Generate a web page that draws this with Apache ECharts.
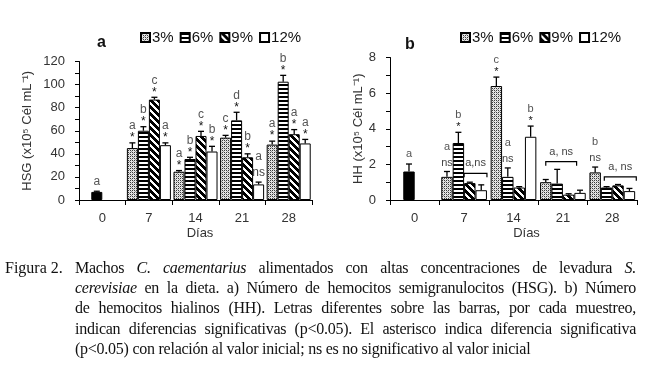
<!DOCTYPE html>
<html><head><meta charset="utf-8">
<script src="https://cdn.jsdelivr.net/npm/echarts@6/dist/echarts.min.js"></script>
<style>
html,body{margin:0;padding:0;background:#fff;}
#chart{position:absolute;left:0;top:0;width:662px;height:371px;}
.cap{position:absolute;font-family:'Liberation Serif','Times New Roman',serif;font-size:16px;line-height:20.2px;color:#111;letter-spacing:-0.25px;}
.j{text-align:justify;text-align-last:justify;white-space:nowrap;}
</style></head><body>
<div id="chart"></div>
<div class="cap" style="left:5px;top:258px;letter-spacing:0;">Figura 2.</div>
<div class="cap" style="left:75px;top:258px;width:561px;">
<div class="j">Machos <i>C. caementarius</i> alimentados con altas concentraciones de levadura <i>S.</i></div>
<div class="j"><i>cerevisiae</i> en la dieta. a) Número de hemocitos semigranulocitos (HSG). b) Número</div>
<div class="j">de hemocitos hialinos (HH). Letras diferentes sobre las barras, por cada muestreo,</div>
<div class="j">indican diferencias significativas (p&lt;0.05). El asterisco indica diferencia significativa</div>
<div>(p&lt;0.05) con relación al valor inicial; ns es no significativo al valor inicial</div>
</div>
<script>
// ---------- DATA ----------
const categories = ['0', '7', '14', '21', '28'];
const seriesNames = ['3%', '6%', '9%', '12%'];

// (a) HSG
const hsgControl = 7, hsgControlErr = 0.6, hsgControlLetter = 'a';
const hsg3  = [null, 45, 24.5, 54, 48];
const hsg6  = [null, 60, 35.5, 69, 102.5];
const hsg9  = [null, 87, 55.5, 37, 57];
const hsg12 = [null, 47.5, 42, 13.5, 49];
const hsg3Err  = [null, 4.5, 1, 2, 3];
const hsg6Err  = [null, 3.5, 1.5, 7, 5.5];
const hsg9Err  = [null, 2, 4, 3, 4];
const hsg12Err = [null, 2, 4.5, 2, 3.5];
const hsg3Letters  = [null, 'a', 'a', 'c', 'a'];
const hsg6Letters  = [null, 'b', 'b', 'd', 'b'];
const hsg9Letters  = [null, 'c', 'c', 'b', 'a'];
const hsg12Letters = [null, 'a', 'b', 'a', 'a'];
const hsg3Marks  = [null, '*', '*', '*', '*'];
const hsg6Marks  = [null, '*', '*', '*', '*'];
const hsg9Marks  = [null, '*', '*', '*', '*'];
const hsg12Marks = [null, '*', '*', 'ns', '*'];

// (b) HH
const hhControl = 1.6, hhControlErr = 0.42, hhControlLetter = 'a';
const hh3  = [null, 1.3, 6.4, 1.0, 1.55];
const hh6  = [null, 3.2, 1.3, 0.92, 0.7];
const hh9  = [null, 0.95, 0.7, 0.3, 0.82];
const hh12 = [null, 0.55, 3.55, 0.4, 0.5];
const hh3Err  = [null, 0.3, 0.5, 0.15, 0.3];
const hh6Err  = [null, 0.6, 0.5, 0.8, 0.05];
const hh9Err  = [null, 0.05, 0.05, 0.05, 0.05];
const hh12Err = [null, 0.3, 0.6, 0.15, 0.15];
const hh3Letters  = [null, 'a', 'c', '', 'b'];
const hh6Letters  = [null, 'b', 'a', '', ''];
const hh9Letters  = [null, '', '', '', ''];
const hh12Letters = [null, '', 'b', '', ''];
const hh3Marks  = [null, 'ns', '*', '', 'ns'];
const hh6Marks  = [null, '*', 'ns', '', ''];
const hh9Marks  = [null, '', '', '', ''];
const hh12Marks = [null, '', '*', '', ''];
// brackets: category index, span in bar slots, height (value), text
const hhBrackets = [
  { cat: 1, from: 2, to: 4, value: 1.5, text: 'a,ns' },
  { cat: 3, from: 0.5, to: 3.2, value: 2.15, text: 'a, ns' },
  { cat: 4, from: 1.3, to: 4.1, value: 1.3, text: 'a, ns' }
];

// ---------- STYLE ----------
const FONT = "'Liberation Sans', Arial, sans-serif";
const GAP_A = 0.055, GAP_B = 0.075;

function pat(w, h, draw) {
  const c = document.createElement('canvas'); c.width = w; c.height = h;
  const g = c.getContext('2d'); draw(g, w, h);
  return { image: c, repeat: 'repeat' };
}
const dotPat = pat(4, 4, (g) => {
  g.fillStyle = '#e4e4e4'; g.fillRect(0, 0, 4, 4);
  g.fillStyle = '#3a3a3a';
  g.fillRect(0, 0, 1, 1); g.fillRect(2, 0, 1, 1); g.fillRect(0, 2, 1, 1); g.fillRect(2, 2, 1, 1);
  g.fillStyle = '#999'; g.fillRect(1, 1, 1, 1); g.fillRect(3, 3, 1, 1);
});
const hPat = pat(4, 4, (g) => {
  g.fillStyle = '#fff'; g.fillRect(0, 0, 4, 4);
  g.fillStyle = '#000'; g.fillRect(0, 0, 4, 2);
});
const dPat = pat(7, 7, (g) => {
  g.fillStyle = '#fff'; g.fillRect(0, 0, 7, 7);
  g.fillStyle = '#000';
  for (let x = 0; x < 7; x++) for (let y = 0; y < 7; y++) {
    const d = ((x - y) % 7 + 7) % 7;
    if (d < 4) g.fillRect(x, y, 1, 1);
  }
});
const fills = [dotPat, hPat, dPat, '#ffffff'];

function barSeries(gi, name, idx, vals, ctrl, gap) {
  const data = vals.map((v, c) => {
    if (c === 0 && ctrl != null) return { value: ctrl, itemStyle: { color: '#000' } };
    return v == null ? '-' : v;
  });
  return {
    type: 'bar', name, xAxisIndex: gi, yAxisIndex: gi, data,
    barGap: '0%', barCategoryGap: (gap * 100) + '%',
    itemStyle: { color: fills[idx], borderColor: '#000', borderWidth: 1 },
    z: 2
  };
}

function buildItems(ctrlVal, ctrlErr, ctrlLetter, vals, errs, letters, marks) {
  const items = [{ cat: 0, slot: 1, value: ctrlVal, err: ctrlErr, letter: ctrlLetter, mark: '' }];
  for (let s = 0; s < 4; s++) for (let c = 1; c < categories.length; c++) {
    if (vals[s][c] == null) continue;
    items.push({ cat: c, slot: s, value: vals[s][c], err: errs[s][c], letter: letters[s][c] || '', mark: marks[s][c] || '' });
  }
  return items;
}

function errSeries(gi, items, gap, fs) {
  return {
    type: 'custom', xAxisIndex: gi, yAxisIndex: gi, silent: true, z: 5,
    data: items.map(it => [it.cat, it.value, it.err, it.slot]),
    renderItem(params, api) {
      const it = items[params.dataIndex];
      const c = api.value(0), v = api.value(1), e = api.value(2), slot = api.value(3);
      const band = api.size([1, 0])[0];
      const bw = band * (1 - gap) / 4;
      const p0 = api.coord([c, v]);
      const p1 = api.coord([c, v + e]);
      const x = p0[0] + (slot - 1.5) * bw;
      const top = p1[1];
      const ch = [];
      if (e > 0) {
        ch.push({ type: 'line', shape: { x1: x, y1: p0[1], x2: x, y2: top }, style: { stroke: '#000', lineWidth: 1.3 } });
        ch.push({ type: 'line', shape: { x1: x - 3, y1: top, x2: x + 3, y2: top }, style: { stroke: '#000', lineWidth: 1.3 } });
      }
      let letterY = top - 10;
      if (it.mark === '*') {
        ch.push({ type: 'text', x: x, y: top - 5, style: { text: '*', align: 'center', verticalAlign: 'middle', font: (fs) + 'px ' + FONT, fill: '#111' } });
        letterY = top - 17;
      } else if (it.mark === 'ns') {
        ch.push({ type: 'text', x: x, y: top - 9, style: { text: 'ns', align: 'center', verticalAlign: 'middle', font: fs + 'px ' + FONT, fill: '#444' } });
        letterY = top - 25;
      }
      if (it.letter) {
        ch.push({ type: 'text', x: x, y: letterY, style: { text: it.letter, align: 'center', verticalAlign: 'middle', font: fs + 'px ' + FONT, fill: '#555' } });
      }
      return { type: 'group', children: ch };
    }
  };
}

function bracketSeries(gi, brackets, gap, fs) {
  return {
    type: 'custom', xAxisIndex: gi, yAxisIndex: gi, silent: true, z: 5,
    data: brackets.map(b => [b.cat, b.value]),
    renderItem(params, api) {
      const b = brackets[params.dataIndex];
      const p = api.coord([api.value(0), api.value(1)]);
      const band = api.size([1, 0])[0];
      const bw = band * (1 - gap) / 4;
      const left = p[0] - 2 * bw;
      const x1 = left + b.from * bw, x2 = left + b.to * bw, y = p[1];
      return { type: 'group', children: [
        { type: 'polyline', shape: { points: [[x1, y + 4], [x1, y], [x2, y], [x2, y + 4]] }, style: { stroke: '#000', lineWidth: 1.2, fill: null } },
        { type: 'text', x: (x1 + x2) / 2, y: y - 10, style: { text: b.text, align: 'center', verticalAlign: 'middle', font: fs + 'px ' + FONT, fill: '#444' } }
      ] };
    }
  };
}

function xAxis(gi, shift) {
  return {
    type: 'category', gridIndex: gi, data: categories,
    axisLine: { lineStyle: { color: '#000', width: 1 } },
    axisTick: { show: true, length: 5, interval: 0, lineStyle: { color: '#000' } },
    axisLabel: { color: '#333', fontSize: 13, fontFamily: FONT, margin: 12 },
    name: 'Días', nameLocation: 'middle', nameGap: 27,
    nameTextStyle: { color: '#333', fontSize: 13, fontFamily: FONT, padding: [0, 0, 0, shift * 2] }
  };
}
function yAxis(gi, max, interval, name, nameGap) {
  return {
    type: 'value', gridIndex: gi, min: 0, max, interval,
    axisLine: { show: true, lineStyle: { color: '#000', width: 1 } },
    axisTick: { show: true, length: 4, lineStyle: { color: '#000' } },
    minorTick: { show: true, splitNumber: 2, length: 4, lineStyle: { color: '#000' } },
    splitLine: { show: false },
    axisLabel: { color: '#333', fontSize: 13, fontFamily: FONT, margin: 14 },
    name, nameLocation: 'middle', nameGap,
    nameTextStyle: { color: '#333', fontSize: 13, fontFamily: FONT }
  };
}

const hsgVals = [hsg3, hsg6, hsg9, hsg12];
const hhVals = [hh3, hh6, hh9, hh12];

const series = [];
hsgVals.forEach((v, i) => series.push(barSeries(0, seriesNames[i], i, v, i === 1 ? hsgControl : null, GAP_A)));
hhVals.forEach((v, i) => series.push(barSeries(1, seriesNames[i], i, v, i === 1 ? hhControl : null, GAP_B)));
series.push(errSeries(0, buildItems(hsgControl, hsgControlErr, hsgControlLetter, hsgVals,
  [hsg3Err, hsg6Err, hsg9Err, hsg12Err], [hsg3Letters, hsg6Letters, hsg9Letters, hsg12Letters],
  [hsg3Marks, hsg6Marks, hsg9Marks, hsg12Marks]), GAP_A, 12));
series.push(errSeries(1, buildItems(hhControl, hhControlErr, hhControlLetter, hhVals,
  [hh3Err, hh6Err, hh9Err, hh12Err], [hh3Letters, hh6Letters, hh9Letters, hh12Letters],
  [hh3Marks, hh6Marks, hh9Marks, hh12Marks]), GAP_B, 11));
series.push(bracketSeries(1, hhBrackets, GAP_B, 11));

const legendCommon = {
  data: seriesNames, icon: 'rect', itemWidth: 9, itemHeight: 9, itemGap: 6, padding: 0,
  top: 30, selectedMode: false,
  textStyle: { fontSize: 15, fontFamily: FONT, color: '#111', padding: [0, 0, 0, -3] }
};

const chart = echarts.init(document.getElementById('chart'), null, { renderer: 'canvas' });
chart.setOption({
  animation: false,
  backgroundColor: '#fff',
  title: [
    { text: 'a', left: 97, top: 35, padding: 0, textStyle: { fontSize: 16, fontWeight: 'bold', color: '#111', fontFamily: FONT } },
    { text: 'b', left: 405, top: 37, padding: 0, textStyle: { fontSize: 16, fontWeight: 'bold', color: '#111', fontFamily: FONT } }
  ],
  legend: [
    Object.assign({}, legendCommon, { left: 140 }),
    Object.assign({}, legendCommon, { left: 460 })
  ],
  grid: [
    { left: 79, top: 61.5, width: 233, height: 138.5 },
    { left: 390, top: 57.5, width: 247, height: 142.5 }
  ],
  xAxis: [xAxis(0, 4.5), xAxis(1, 13)],
  yAxis: [
    yAxis(0, 120, 20, 'HSG (x10\u2075 Cél mL\u207B\u00B9)', 45),
    yAxis(1, 8, 2, 'HH (x10\u2075 Cél mL\u207B\u00B9)', 25)
  ],
  series
});
</script>
</body></html>
